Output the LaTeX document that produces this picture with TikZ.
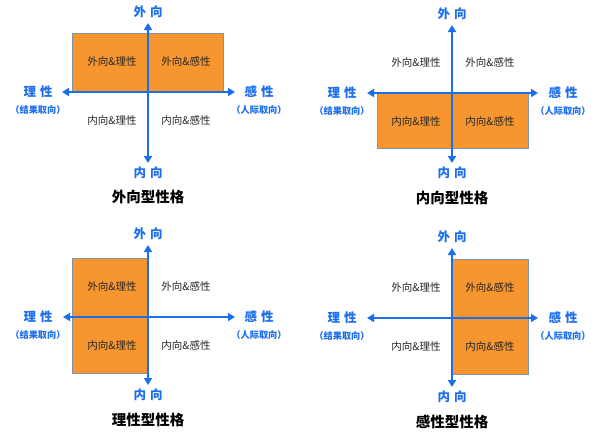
\documentclass[tikz,border=0pt]{standalone}
\usepackage{fontspec}
\setmainfont{Noto Sans CJK SC}
\usetikzlibrary{arrows.meta}
\definecolor{axisblue}{HTML}{1A6EF0}
\definecolor{boxorange}{HTML}{F7962F}
\definecolor{boxedge}{HTML}{7F95A5}
\tikzset{
  axisline/.style={draw=axisblue, line width=2.6pt, {Triangle[length=7pt,width=8pt]}-{Triangle[length=7pt,width=8pt]}},
  axislabel/.style={text=axisblue, font=\fontsize{12.5}{14}\selectfont\bfseries, inner sep=0pt},
  sublabel/.style={text=axisblue, font=\fontsize{9.2}{11}\selectfont\bfseries, inner sep=0pt},
  quadtext/.style={text=black!85, font=\fontsize{10.5}{12}\selectfont, inner sep=0pt},
  titletext/.style={text=black, font=\fontsize{14.5}{16}\selectfont\bfseries, inner sep=0pt},
  hibox/.style={fill=boxorange, draw=boxedge, line width=0.6pt}
}
\newcommand\gapp{\hspace{4pt}}
% #1 prefix, #2 cx, #3 cy, #4 left tip x, #5 right tip x, #6 top y, #7 bottom y, #8 title, #9 title y
\newcommand\quadpanel[9]{%
  \coordinate (#1c) at (#2,#3);
  \coordinate (#1l) at (#4,#3);
  \coordinate (#1r) at (#5,#3);
  \coordinate (#1t) at (#2,#6);
  \coordinate (#1b) at (#2,#7);
  \draw[axisline] (#1l) -- (#1r);
  \draw[axisline] (#1t) -- (#1b);
  \node[axislabel] (#1out) at (#2,#6-11) {外\gapp 向};
  \node[axislabel] (#1in) at (#2,#7+10) {内\gapp 向};
  \node[axislabel] (#1ra) at (#2-110,#3) {理\gapp 性};
  \node[sublabel] (#1ras) at (#2-110,#3+18) {（结果取向）};
  \node[axislabel] (#1em) at (#2+111,#3) {感\gapp 性};
  \node[sublabel] (#1ems) at (#2+111,#3+18) {（人际取向）};
  \node[quadtext] (#1q1) at (#2-36,#3-31) {外向\&理性};
  \node[quadtext] (#1q2) at (#2+38,#3-31) {外向\&感性};
  \node[quadtext] (#1q3) at (#2-36,#3+29) {内向\&理性};
  \node[quadtext] (#1q4) at (#2+38,#3+29) {内向\&感性};
  \node[titletext] (#1title) at (#2,#9) {#8};
}
\begin{document}
\begin{tikzpicture}[x=1pt,y=-1pt]
\useasboundingbox[fill=white] (0,0) rectangle (600,439);
% panel 1: extravert (top half)
\draw[hibox] (72,33) rectangle (223,92);
\quadpanel{a}{148}{92}{62}{235}{23}{163}{外向型性格}{197}
% panel 2: introvert (bottom half)
\draw[hibox] (377,93) rectangle (528,148);
\quadpanel{b}{452}{93}{367}{538}{25}{163}{内向型性格}{198}
% panel 3: rational (left half)
\draw[hibox] (72,258) rectangle (148,373);
\quadpanel{c}{148}{317}{63}{235}{245}{385}{理性型性格}{420}
% panel 4: emotional (right half)
\draw[hibox] (452,259) rectangle (528,374);
\quadpanel{d}{452}{318}{367}{538}{248}{387}{感性型性格}{422}
\end{tikzpicture}
\end{document}
